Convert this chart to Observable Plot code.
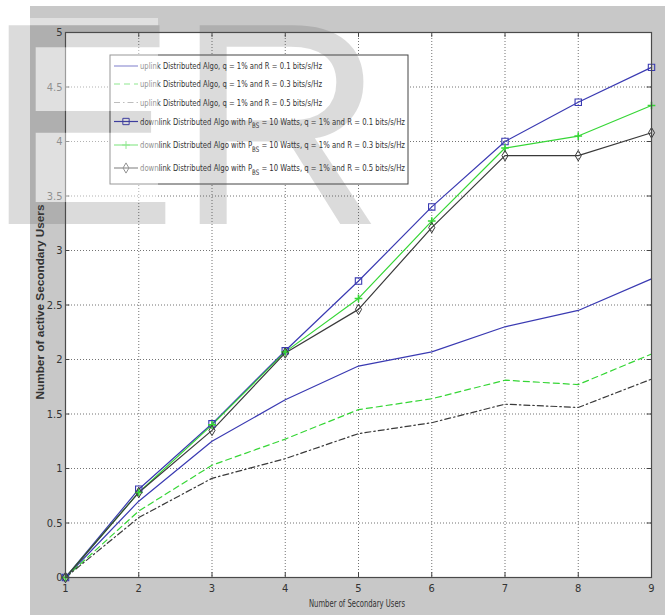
<!DOCTYPE html>
<html><head><meta charset="utf-8">
<script src="https://cdn.jsdelivr.net/npm/d3@7"></script>
<script src="https://cdn.jsdelivr.net/npm/@observablehq/plot@0.6"></script>
<style>
body{margin:0;background:#fff;}
#wrap{position:relative;width:665px;height:615px;overflow:hidden;background:#fff;}
#bg{position:absolute;left:30px;top:6px;width:635px;height:609px;background:#c8c8c8;}
#chart{position:absolute;left:0;top:0;}
</style></head><body><div id="wrap"><div id="bg"></div><div id="chart"></div></div>
<script>
const users = [1, 2, 3, 4, 5, 6, 7, 8, 9];
const upR01 = [0, 0.70, 1.25, 1.63, 1.94, 2.07, 2.30, 2.45, 2.74];
const upR03 = [0, 0.61, 1.03, 1.27, 1.54, 1.64, 1.81, 1.77, 2.05];
const upR05 = [0, 0.55, 0.91, 1.09, 1.32, 1.42, 1.59, 1.56, 1.82];
const dnR01 = [0, 0.81, 1.41, 2.08, 2.72, 3.40, 4.00, 4.36, 4.68];
const dnR03 = [0, 0.78, 1.40, 2.07, 2.56, 3.27, 3.94, 4.05, 4.33];
const dnR05 = [0, 0.78, 1.35, 2.06, 2.46, 3.21, 3.87, 3.87, 4.08];
const xTicks = [1, 2, 3, 4, 5, 6, 7, 8, 9];
const yTicks = [0, 0.5, 1, 1.5, 2, 2.5, 3, 3.5, 4, 4.5, 5];
const yTickLabels = ["0", "0.5", "1", "1.5", "2", "2.5", "3", "3.5", "4", "4.5", "5"];
const legendPre = [
  "uplink Distributed Algo, q = 1% and R = 0.1 bits/s/Hz",
  "uplink Distributed Algo, q = 1% and R = 0.3 bits/s/Hz",
  "uplink Distributed Algo, q = 1% and R = 0.5 bits/s/Hz",
  "downlink Distributed Algo with P",
  "downlink Distributed Algo with P",
  "downlink Distributed Algo with P"
];
const legendSub = ["", "", "", "BS", "BS", "BS"];
const legendPost = ["", "", "",
  " = 10 Watts, q = 1% and R = 0.1 bits/s/Hz",
  " = 10 Watts, q = 1% and R = 0.3 bits/s/Hz",
  " = 10 Watts, q = 1% and R = 0.5 bits/s/Hz"];
const xLabel = "Number of Secondary Users";
const yLabel = "Number of active Secondary Users";

const BLUE = "#3a3ab2", GREEN = "#36d636", BLACK = "#3a3a3a";
const NARROW = "'Liberation Sans Narrow','Arial Narrow','DejaVu Sans Condensed',sans-serif";

const styles = [
  {color: BLUE, dash: null, symbol: null},
  {color: GREEN, dash: "6,4", symbol: null},
  {color: BLACK, dash: "6,3,1.5,3", symbol: null},
  {color: BLUE, dash: null, symbol: "square"},
  {color: GREEN, dash: null, symbol: "plus"},
  {color: BLACK, dash: null, symbol: "diamond"}
];
const seriesVals = [upR01, upR03, upR05, dnR01, dnR03, dnR05];
const tables = seriesVals.map(vals => users.map((u, i) => ({x: u, y: vals[i]})));

const marks = [
  Plot.frame({fill: "white"}),
  Plot.gridX(xTicks, {stroke: "#444", strokeOpacity: 0.75, strokeDasharray: "1,2"}),
  Plot.gridY(yTicks, {stroke: "#444", strokeOpacity: 0.75, strokeDasharray: "1,2"}),
  Plot.ruleX(xTicks, {y1: 0, y2: 0.045, stroke: "#444"}),
  Plot.ruleX(xTicks, {y1: 4.955, y2: 5, stroke: "#444"}),
  Plot.ruleY(yTicks, {x1: 1, x2: 1.06, stroke: "#444"}),
  Plot.ruleY(yTicks, {x1: 8.94, x2: 9, stroke: "#444"})
];
tables.forEach((t, i) => {
  const s = styles[i];
  marks.push(Plot.line(t, {x: "x", y: "y", stroke: s.color, strokeWidth: 1.2, strokeDasharray: s.dash}));
});
tables.forEach((t, i) => {
  const s = styles[i];
  if (s.symbol === "square") marks.push(Plot.dot(t, {x: "x", y: "y", symbol: "square", r: 3.6, stroke: s.color, fill: "none", strokeWidth: 1.1}));
  if (s.symbol === "plus") marks.push(Plot.dot(t, {x: "x", y: "y", symbol: "plus", r: 2.6, stroke: s.color, strokeWidth: 1.6}));
  if (s.symbol === "diamond") marks.push(Plot.dot(t, {x: "x", y: "y", symbol: "diamond", r: 3.2, stroke: s.color, fill: "none", strokeWidth: 1}));
});
marks.push(
  Plot.frame({stroke: "#4a4a4a", strokeWidth: 1.2}),
  Plot.axisX(xTicks, {tickSize: 0, tickPadding: 7, label: null, fontSize: 11, tickFormat: d => String(d), fill: "#333"}),
  Plot.axisY(yTicks, {tickSize: 0, tickPadding: 3, label: null, fontSize: 11, tickFormat: (d, i) => yTickLabels[i], fill: "#333"})
);

const chart = Plot.plot({
  width: 665, height: 615,
  marginLeft: 65, marginRight: 14, marginTop: 32, marginBottom: 38,
  style: {background: "transparent", fontFamily: NARROW, color: "#333"},
  x: {domain: [1, 9]},
  y: {domain: [0, 5]},
  marks
});
document.getElementById("chart").append(chart);

const svg = d3.select(chart);
// axis labels
svg.append("text").attr("x", 357).attr("y", 603).attr("dy", "0.35em")
  .attr("text-anchor", "middle").attr("font-family", NARROW).attr("font-size", 10.5)
  .attr("fill", "#333").attr("textLength", 96).attr("lengthAdjust", "spacingAndGlyphs").text(xLabel);
svg.append("text").attr("transform", "translate(40.5,302) rotate(-90)").attr("dy", "0.35em")
  .attr("text-anchor", "middle").attr("font-family", "'Liberation Sans',Arial,sans-serif").attr("font-size", 10)
  .attr("font-weight", "bold").attr("fill", "#333").attr("textLength", 195).attr("lengthAdjust", "spacingAndGlyphs").text(yLabel);

// legend
const lg = svg.append("g").attr("text-anchor", "start");
lg.append("rect").attr("x", 110).attr("y", 55).attr("width", 298).attr("height", 129)
  .attr("fill", "white").attr("stroke", "#444").attr("stroke-width", 1);
const rowY = [66, 84, 102.5, 121.5, 145, 168];
styles.forEach((s, i) => {
  const y = rowY[i];
  lg.append("line").attr("x1", 114).attr("x2", 138).attr("y1", y).attr("y2", y)
    .attr("stroke", i === 2 ? "#888" : s.color).attr("stroke-width", 1.2).attr("stroke-dasharray", s.dash);
  if (s.symbol) {
    const sym = s.symbol === "square" ? d3.symbolSquare : s.symbol === "plus" ? d3.symbolPlus : d3.symbolDiamond;
    const size = s.symbol === "square" ? 40 : s.symbol === "plus" ? 22 : 30;
    lg.append("path").attr("d", d3.symbol(sym, size)()).attr("transform", `translate(126,${y})`)
      .attr("fill", s.symbol === "plus" ? s.color : "none").attr("stroke", s.color).attr("stroke-width", 1);
  }
  const t = lg.append("text").attr("x", 140).attr("y", y).attr("dy", "0.35em")
    .attr("text-anchor", "start")
    .attr("font-family", NARROW).attr("font-size", 9.5).attr("fill", "#333")
    .attr("textLength", i < 3 ? 182 : 265).attr("lengthAdjust", "spacingAndGlyphs");
  t.append("tspan").text(legendPre[i]);
  if (legendSub[i]) {
    t.append("tspan").attr("dy", "3.5").attr("font-size", 7.5).text(legendSub[i]);
    t.append("tspan").attr("dy", "-3.5").text(legendPost[i]);
  }
});

// watermark
const defs = svg.append("defs");
const mask = defs.append("mask").attr("id", "emask");
mask.append("rect").attr("x", 0).attr("y", 0).attr("width", 665).attr("height", 615).attr("fill", "white");
mask.append("text").attr("x", -15).attr("y", 224).attr("text-anchor", "start").attr("font-family", "'Liberation Sans',Arial,sans-serif")
  .attr("font-size", 289).attr("fill", "black").text("E");
const wm = svg.append("g").attr("pointer-events", "none").attr("text-anchor", "start");
wm.append("rect").attr("x", 8).attr("y", 18).attr("width", 150).attr("height", 206)
  .attr("fill", "white").attr("opacity", 0.45).attr("mask", "url(#emask)");
wm.append("text").attr("x", -15).attr("y", 224).attr("font-family", "'Liberation Sans',Arial,sans-serif")
  .attr("font-size", 289).attr("fill", "#505050").attr("opacity", 0.2).text("E");
wm.append("text").attr("x", 176).attr("y", 224).attr("font-family", "'Liberation Sans',Arial,sans-serif")
  .attr("font-size", 289).attr("fill", "#505050").attr("opacity", 0.2).text("R");
</script></body></html>
